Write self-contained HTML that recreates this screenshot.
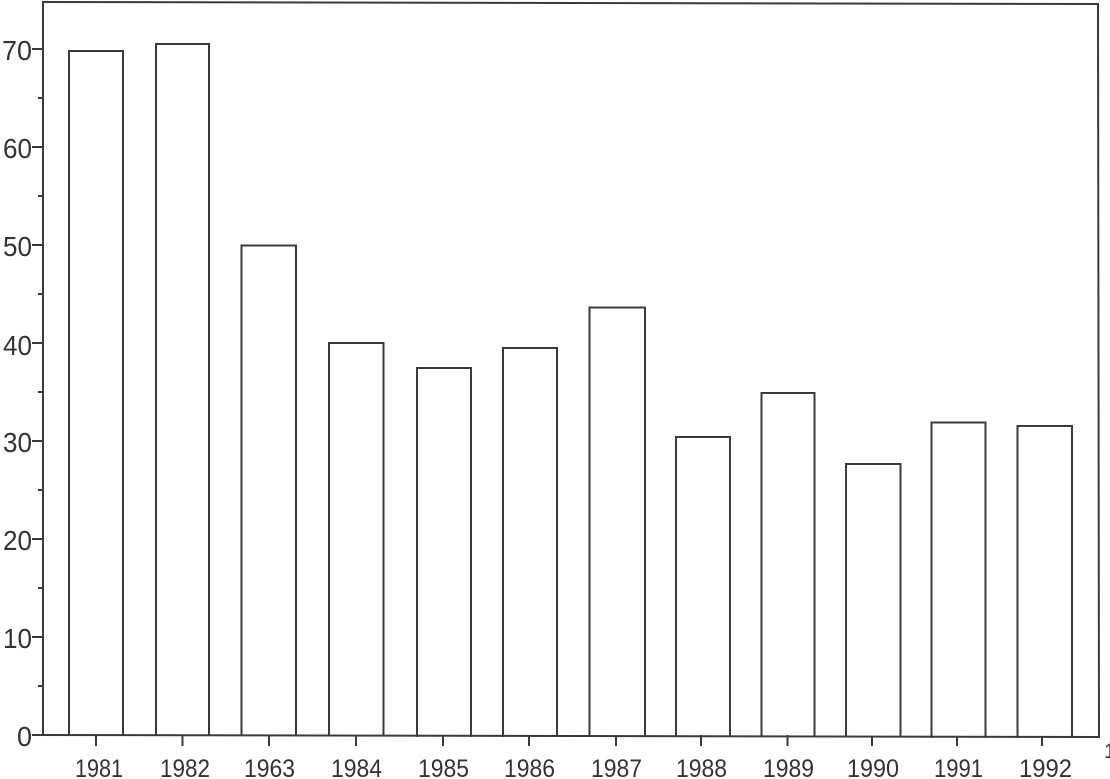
<!DOCTYPE html>
<html>
<head>
<meta charset="utf-8">
<style>
html,body{margin:0;padding:0;background:#fff;}
svg{display:block;}
text{font-family:"Liberation Sans","DejaVu Sans",sans-serif;fill:#333;}
</style>
</head>
<body>
<svg width="1110" height="779" viewBox="0 0 1110 779" xmlns="http://www.w3.org/2000/svg">
<rect width="1110" height="779" fill="#fff"/>
<g stroke="#3a3a3a" stroke-width="2" fill="none" stroke-linecap="square">
  <!-- frame -->
  <line x1="43" y1="2" x2="1098" y2="4"/>
  <line x1="43" y1="2" x2="43" y2="735"/>
  <line x1="1098" y1="4" x2="1099" y2="737"/>
  <line x1="33" y1="735" x2="1099" y2="737"/>
  <!-- y major ticks -->
  <line x1="33" y1="735" x2="43" y2="735"/>
  <line x1="33" y1="637" x2="43" y2="637"/>
  <line x1="33" y1="539" x2="43" y2="539"/>
  <line x1="33" y1="441" x2="43" y2="441"/>
  <line x1="33" y1="343" x2="43" y2="343"/>
  <line x1="33" y1="245" x2="43" y2="245"/>
  <line x1="33" y1="147" x2="43" y2="147"/>
  <line x1="33" y1="49" x2="43" y2="49"/>
  <!-- y minor ticks -->
  <line x1="39" y1="686" x2="43" y2="686"/>
  <line x1="39" y1="588" x2="43" y2="588"/>
  <line x1="39" y1="490" x2="43" y2="490"/>
  <line x1="39" y1="392" x2="43" y2="392"/>
  <line x1="39" y1="294" x2="43" y2="294"/>
  <line x1="39" y1="196" x2="43" y2="196"/>
  <line x1="39" y1="98" x2="43" y2="98"/>
  <!-- x ticks -->
  <line x1="96" y1="736" x2="96" y2="745"/>
  <line x1="182.5" y1="736" x2="182.5" y2="745"/>
  <line x1="269" y1="736" x2="269" y2="745"/>
  <line x1="356" y1="736" x2="356" y2="745"/>
  <line x1="443" y1="736" x2="443" y2="745"/>
  <line x1="529" y1="736" x2="529" y2="745"/>
  <line x1="616" y1="736" x2="616" y2="745"/>
  <line x1="701" y1="736" x2="701" y2="745"/>
  <line x1="787.5" y1="736" x2="787.5" y2="745"/>
  <line x1="872" y1="737" x2="872" y2="745"/>
  <line x1="957" y1="737" x2="957" y2="745"/>
  <line x1="1042" y1="737" x2="1042" y2="745"/>
  <!-- bars -->
  <path d="M69 735 V51 H123 V735"/>
  <path d="M156 735 V44 H209 V735"/>
  <path d="M241.5 735 V245.5 H296 V735"/>
  <path d="M329 735 V343 H383.5 V735"/>
  <path d="M417 736 V368 H471 V736"/>
  <path d="M503 736 V348 H557 V736"/>
  <path d="M589.5 736 V307.5 H645 V736"/>
  <path d="M676 736 V437 H730 V736"/>
  <path d="M761.5 736 V393 H814.5 V736"/>
  <path d="M846 736 V464 H900.5 V736"/>
  <path d="M931.5 737 V422.5 H985.5 V737"/>
  <path d="M1017.5 737 V426 H1072 V737"/>
</g>
<!-- y labels -->
<g font-size="28" text-anchor="end">
  <text x="32" y="746" textLength="15" lengthAdjust="spacingAndGlyphs">0</text>
  <text x="32" y="648" textLength="29" lengthAdjust="spacingAndGlyphs">10</text>
  <text x="32" y="550" textLength="29" lengthAdjust="spacingAndGlyphs">20</text>
  <text x="32" y="452" textLength="29" lengthAdjust="spacingAndGlyphs">30</text>
  <text x="32" y="355" textLength="29" lengthAdjust="spacingAndGlyphs">40</text>
  <text x="32" y="256" textLength="29" lengthAdjust="spacingAndGlyphs">50</text>
  <text x="32" y="158" textLength="29" lengthAdjust="spacingAndGlyphs">60</text>
  <text x="32" y="60" textLength="30" lengthAdjust="spacingAndGlyphs">70</text>
</g>
<!-- x labels -->
<g font-size="25">
  <text x="75" y="777" textLength="48" lengthAdjust="spacingAndGlyphs">1981</text>
  <text x="160" y="777" textLength="50" lengthAdjust="spacingAndGlyphs">1982</text>
  <text x="244" y="777" textLength="51" lengthAdjust="spacingAndGlyphs">1963</text>
  <text x="331" y="777" textLength="51" lengthAdjust="spacingAndGlyphs">1984</text>
  <text x="418" y="777" textLength="51" lengthAdjust="spacingAndGlyphs">1985</text>
  <text x="504" y="777" textLength="51" lengthAdjust="spacingAndGlyphs">1986</text>
  <text x="591" y="777" textLength="51" lengthAdjust="spacingAndGlyphs">1987</text>
  <text x="676" y="777" textLength="51" lengthAdjust="spacingAndGlyphs">1988</text>
  <text x="763" y="777" textLength="51" lengthAdjust="spacingAndGlyphs">1989</text>
  <text x="847" y="777" textLength="52" lengthAdjust="spacingAndGlyphs">1990</text>
  <text x="934" y="777" textLength="49" lengthAdjust="spacingAndGlyphs">1991</text>
  <text x="1019" y="777" textLength="53" lengthAdjust="spacingAndGlyphs">1992</text>
  <text x="1104" y="758" font-size="21">1</text>
</g>
</svg>
</body>
</html>
